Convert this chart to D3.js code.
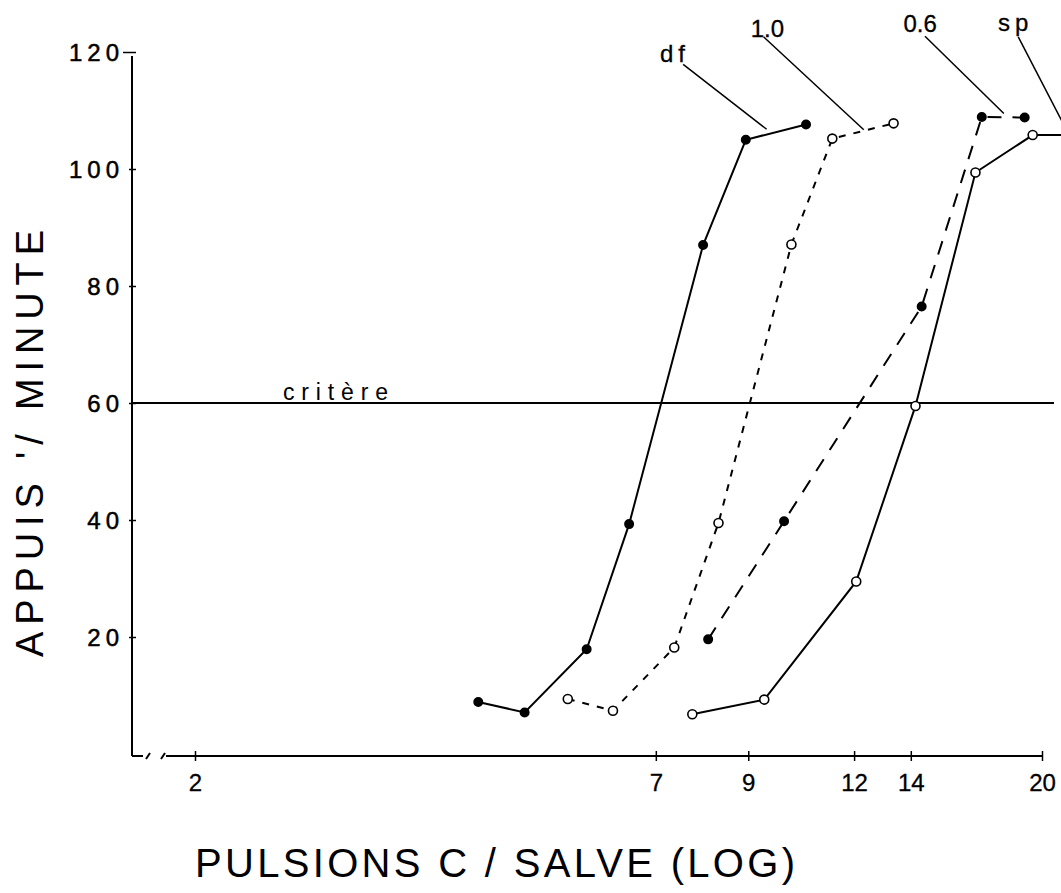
<!DOCTYPE html>
<html>
<head>
<meta charset="utf-8">
<script src="https://cdn.jsdelivr.net/npm/d3@7"></script>
<style>
  body { margin: 0; background: #fff; }
  text { font-family: "Liberation Sans", Arial, sans-serif; fill: #000; }
</style>
</head>
<body>
<div class="chart"></div>
<script>
// data
const xTicks = [2, 7, 9, 12, 14, 20];
const yTicks = [20, 40, 60, 80, 100, 120];
const critere = 60;

const dfX  = [4.32, 4.90, 5.80, 6.51, 7.96, 8.94, 10.53];
const dfY  = [8.9, 7.1, 17.9, 39.3, 87, 105, 107.6];
const s10X = [5.51, 6.23, 7.36, 8.30, 10.12, 11.31, 13.36];
const s10Y = [9.4, 7.4, 18.2, 39.5, 87.1, 105.2, 107.8];
const s06X = [8.07, 9.92, 14.42, 16.98, 19.08];
const s06Y = [19.6, 39.8, 76.5, 108.9, 108.8];
const spX  = [7.73, 9.40, 12.07, 14.18, 16.69, 19.50, 22];
const spY  = [6.8, 9.3, 29.5, 59.5, 99.4, 105.8, 105.8];

// series labels and their leader lines (data coords)
const labelNames = ["df", "1.0", "0.6", "sp"];
const labelX     = [7.375, 9.48, 14.36, 18.62];
const labelY     = [118.3, 122.6, 123.4, 123.6];
const leadFromX  = [7.54, 9.38, 14.55, 18.75];
const leadFromY  = [117.9, 122.6, 122.7, 122.6];
const leadToX    = [9.46, 12.32, 18.03, 21.89];
const leadToY    = [106.8, 106.7, 109.5, 103.8];

const W = 1061, H = 893;

const svg = d3.select(".chart")
    .append("svg")
    .attr("width", W)
    .attr("height", H);

const xScale = d3.scaleLog().domain([2, 20]).range([195, 1042]);
const yScale = d3.scaleLinear().domain([0, 120]).range([754, 52]);

const axisX = 132, axisY = 756;

// === axes ===
const yAxis = d3.axisLeft(yScale).tickValues(yTicks).tickSize(0).tickPadding(0);
const gy = svg.append("g")
    .attr("class", "axis y-axis")
    .attr("transform", `translate(${axisX},0)`)
    .call(yAxis);
gy.select(".domain").remove();
gy.selectAll(".tick line")
    .attr("x1", d => d === 120 ? -9 : -3)
    .attr("x2", 4)
    .attr("stroke", "#000")
    .attr("stroke-width", 1.5);
gy.selectAll(".tick text")
    .attr("x", -8)
    .attr("dy", null)
    .attr("y", 8.5)
    .attr("font-size", 24)
    .attr("letter-spacing", 5)
    .attr("text-anchor", "end")
    .attr("font-family", "Liberation Sans, Arial, sans-serif")
    .attr("fill", "#000")
    .attr("stroke", "#000")
    .attr("stroke-width", 0.5);

svg.append("line")
    .attr("x1", axisX).attr("x2", axisX)
    .attr("y1", yScale(120) + 4).attr("y2", axisY)
    .attr("stroke", "#000").attr("stroke-width", 2);

const xAxis = d3.axisBottom(xScale).tickValues(xTicks).tickSize(0).tickFormat(d3.format("d"));
const gx = svg.append("g")
    .attr("class", "axis x-axis")
    .attr("transform", `translate(0,${axisY})`)
    .call(xAxis);
gx.select(".domain").remove();
gx.selectAll(".tick line")
    .attr("y1", -5).attr("y2", 5)
    .attr("stroke", "#000").attr("stroke-width", 1.5);
gx.selectAll(".tick text")
    .attr("dy", null)
    .attr("y", 35)
    .attr("font-size", 24)
    .attr("font-family", "Liberation Sans, Arial, sans-serif")
    .attr("fill", "#000")
    .attr("stroke", "#000")
    .attr("stroke-width", 0.3);

// x axis line with a break near the origin
const xa = svg.append("g").attr("stroke", "#000").attr("stroke-width", 2).attr("fill", "none");
xa.append("line").attr("x1", axisX).attr("x2", 143).attr("y1", axisY).attr("y2", axisY);
xa.append("line").attr("x1", 146).attr("x2", 150).attr("y1", axisY + 3).attr("y2", axisY - 3);
xa.append("line").attr("x1", 161).attr("x2", 165).attr("y1", axisY + 3).attr("y2", axisY - 3);
xa.append("line").attr("x1", 166).attr("x2", xScale(20)).attr("y1", axisY).attr("y2", axisY);

// criterion line
svg.append("line")
    .attr("x1", axisX).attr("x2", 1054)
    .attr("y1", yScale(critere)).attr("y2", yScale(critere))
    .attr("stroke", "#000").attr("stroke-width", 2);
svg.append("text")
    .attr("x", 283).attr("y", yScale(critere) - 3)
    .attr("font-size", 23)
    .attr("textLength", 105).attr("lengthAdjust", "spacing")
    .text("critère");

// === series ===
const series = [
  { xs: dfX,  ys: dfY,  dash: null,    filled: true  },
  { xs: s10X, ys: s10Y, dash: "7,8",   filled: false },
  { xs: s06X, ys: s06Y, dash: "14,11", filled: true  },
  { xs: spX,  ys: spY,  dash: null,    filled: false }
];

const line = d3.line()
    .x(d => xScale(d[0]))
    .y(d => yScale(d[1]));

series.forEach(s => {
  const pts = s.xs.map((x, i) => [x, s.ys[i]]);
  svg.append("path")
      .datum(pts)
      .attr("d", line)
      .attr("fill", "none")
      .attr("stroke", "#000")
      .attr("stroke-width", 2)
      .attr("stroke-dasharray", s.dash);
  svg.append("g").selectAll("circle")
      .data(pts)
      .join("circle")
      .attr("cx", d => xScale(d[0]))
      .attr("cy", d => yScale(d[1]))
      .attr("r", s.filled ? 4.2 : 4.5)
      .attr("fill", s.filled ? "#000" : "#fff")
      .attr("stroke", "#000")
      .attr("stroke-width", 1.6);
});

// labels + leaders
svg.append("g").selectAll("line")
    .data(labelNames)
    .join("line")
    .attr("x1", (d, i) => xScale(leadFromX[i]))
    .attr("y1", (d, i) => yScale(leadFromY[i]))
    .attr("x2", (d, i) => xScale(leadToX[i]))
    .attr("y2", (d, i) => yScale(leadToY[i]))
    .attr("stroke", "#000")
    .attr("stroke-width", 1.5);

svg.append("g").selectAll("text")
    .data(labelNames)
    .join("text")
    .attr("x", (d, i) => xScale(labelX[i]))
    .attr("y", (d, i) => yScale(labelY[i]))
    .attr("text-anchor", "middle")
    .attr("font-size", 24)
    .attr("letter-spacing", (d, i) => (i === 1 || i === 2) ? 0 : 5)
    .attr("stroke", "#000")
    .attr("stroke-width", 0.3)
    .text(d => d);

// axis titles
svg.append("text")
    .attr("x", 195).attr("y", 877)
    .attr("font-size", 40)
    .attr("font-family", "Liberation Sans Narrow, DejaVu Sans Condensed, sans-serif")
    .attr("textLength", 600).attr("lengthAdjust", "spacing")
    .text("PULSIONS C / SALVE (LOG)");

svg.append("text")
    .attr("transform", "translate(43,657) rotate(-90)")
    .attr("font-size", 38)
    .attr("textLength", 427).attr("lengthAdjust", "spacing")
    .text("APPUIS '/ MINUTE");
</script>
</body>
</html>
